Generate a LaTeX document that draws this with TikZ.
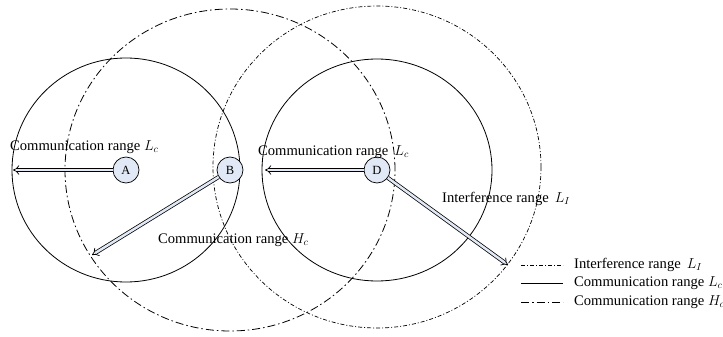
\documentclass[tikz,border=0pt]{standalone}
\usepackage{fontspec}
\setmainfont{Liberation Serif}
\usetikzlibrary{arrows.meta, positioning, backgrounds}
\definecolor{nodefill}{RGB}{226,233,246}

\begin{document}
\begin{tikzpicture}[
    x=1pt, y=-1pt,
    every node/.style={font=\fontsize{14.6}{17}\selectfont},
    station/.style={circle, draw, line width=0.7pt, fill=nodefill, minimum size=26pt, inner sep=0pt, font=\fontsize{12.5}{14}\selectfont},
    rangelabel/.style={anchor=base west, inner sep=0pt},
    lrange/.style={line width=0.8pt},
    hrange/.style={line width=0.8pt, dash pattern=on 8pt off 3pt on 1.5pt off 3pt},
    irange/.style={line width=0.7pt, dash pattern=on 4pt off 2pt on 1pt off 2pt},
    link/.style={line width=0.75pt, double=nodefill, double distance=2.5pt, -{Implies[scale=1.25]}},
]
    \useasboundingbox (0,0) rectangle (723,337);

    % Stations
    \foreach \x/\name in {126/A, 230/B, 377/D}
    {
        \node[station] (\name) at (\x, 170) {\name};
    }

    % Range circles, behind the stations
    \begin{scope}[on background layer]
        \draw[lrange] (A) ellipse [x radius=114pt, y radius=112pt];
        \draw[lrange] (D) ellipse [x radius=115pt, y radius=111pt];
        \draw[hrange] (B) ellipse [x radius=165pt, y radius=161pt];
        \draw[irange] ([yshift=3pt]D.center) ellipse [x radius=164pt, y radius=161pt];
    \end{scope}

    % Free ends of the range arrows
    \coordinate (a end) at (13, 170);
    \coordinate (b end) at (92, 255);
    \coordinate (d end) at (265, 170);
    \coordinate (i end) at (508, 265);

    \draw[link] (A) -- (a end);
    \draw[link] (B) -- (b end);
    \draw[link] (D) -- (d end);
    \draw[link] (D) -- (i end);

    % Labels
    \node[rangelabel] (lab a) at (10, 150) {Communication range $L_c$};
    \node[rangelabel] (lab d) at (258, 155) {Communication range \,$L_c$};
    \node[rangelabel] (lab b) at (158, 243) {Communication range $H_c$};
    \node[rangelabel] (lab i) at (442, 202) {Interference range \,$L_I$};

    % Legend
    \foreach \y/\sty/\txt [count=\i] in {
        265/irange/Interference range \,$L_I$,
        283/lrange/Communication range $L_c$,
        302/hrange/Communication range $H_c$}
    {
        \coordinate (leg\i a) at (521, \y);
        \coordinate (leg\i b) at (563, \y);
        \draw[\sty] (leg\i a) -- (leg\i b);
        \node[anchor=west, inner sep=0pt] (leg\i) at (574, \y) {\txt};
    }
\end{tikzpicture}
\end{document}
